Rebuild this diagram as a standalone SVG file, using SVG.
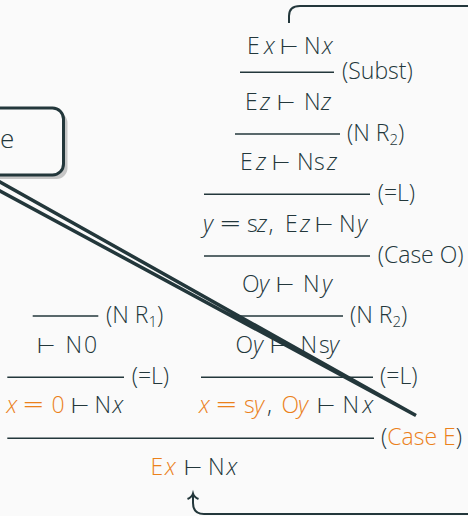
<svg xmlns="http://www.w3.org/2000/svg" width="468" height="516" viewBox="0 0 468 516">
<style>
text{font-family:"Open Sans","DejaVu Sans",sans-serif;font-size:23px;font-weight:300;fill:#23373b}
.i{font-style:italic}
.o{fill:#eb811b}
.s{font-size:15px}
.t{font-family:"DejaVu Sans",sans-serif;font-weight:200;font-size:21px}
.e{font-family:"DejaVu Sans",sans-serif;font-weight:200;font-size:27px}
.rule{stroke:#23373b;stroke-width:1.6;fill:none}
.conn{stroke:#23373b;stroke-width:2;fill:none}
</style>
<rect width="468" height="516" fill="#fafafa"/>
<g id="proof">
<text y="54"><tspan x="247">E</tspan><tspan x="264" class="i">x</tspan><tspan x="280" class="t">⊢</tspan><tspan x="304">N</tspan><tspan x="322" class="i">x</tspan></text>
<line class="rule" x1="240" y1="72.3" x2="334" y2="72.3"/>
<text x="342" y="79">(Subst)</text>
<text y="110"><tspan x="245">E</tspan><tspan x="260" class="i">z</tspan><tspan x="277" class="t">⊢</tspan><tspan x="304">N</tspan><tspan x="321" class="i">z</tspan></text>
<line class="rule" x1="235" y1="134" x2="340" y2="134"/>
<text x="347" y="140.7">(N R<tspan class="s" dy="4">2</tspan><tspan dy="-4">)</tspan></text>
<text y="170"><tspan x="240">E</tspan><tspan x="256" class="i">z</tspan><tspan x="272" class="t">⊢</tspan><tspan x="297">N</tspan><tspan x="314">s</tspan><tspan x="327" class="i">z</tspan></text>
<line class="rule" x1="204" y1="194.3" x2="370" y2="194.3"/>
<text x="377.7" y="201">(=L)</text>
<text y="231.7"><tspan x="203" class="i">y</tspan><tspan x="219" class="e">=</tspan><tspan x="247">s</tspan><tspan x="257" class="i">z</tspan><tspan x="268.5">,</tspan><tspan x="285">E</tspan><tspan x="300" class="i">z</tspan><tspan x="315" class="t">⊢</tspan><tspan x="339">N</tspan><tspan x="357" class="i">y</tspan></text>
<line class="rule" x1="204" y1="256" x2="370" y2="256"/>
<text x="377.7" y="262.7">(Case O)</text>
<text y="291.7"><tspan x="242">O</tspan><tspan x="259" class="i">y</tspan><tspan x="276" class="t">⊢</tspan><tspan x="303">N</tspan><tspan x="322" class="i">y</tspan></text>
<line class="rule" x1="233" y1="316" x2="343" y2="316"/>
<text x="350" y="322.7">(N R<tspan class="s" dy="4">2</tspan><tspan dy="-4">)</tspan></text>
<line class="rule" x1="32.7" y1="316" x2="98.3" y2="316"/>
<text x="106" y="322.7">(N R<tspan class="s" dy="4">1</tspan><tspan dy="-4">)</tspan></text>
<text y="352.7"><tspan x="37" class="t">⊢</tspan><tspan x="65.5">N</tspan><tspan x="84">0</tspan></text>
<text y="352.7"><tspan x="235.5">O</tspan><tspan x="253" class="i">y</tspan><tspan x="270" class="t">⊢</tspan><tspan x="300.5">N</tspan><tspan x="319">s</tspan><tspan x="329" class="i">y</tspan></text>
<line class="rule" x1="7.3" y1="377.3" x2="124" y2="377.3"/>
<text x="131.7" y="384">(=L)</text>
<line class="rule" x1="201" y1="377.3" x2="373" y2="377.3"/>
<text x="380" y="384">(=L)</text>
<text y="413.3"><tspan x="6.5" class="i o">x</tspan><tspan x="22" class="e o">=</tspan><tspan x="51.5" class="o">0</tspan><tspan x="71" class="t">⊢</tspan><tspan x="94.5">N</tspan><tspan x="112.5" class="i">x</tspan></text>
<text y="413.3"><tspan x="199" class="i o">x</tspan><tspan x="215" class="e o">=</tspan><tspan x="244" class="o">s</tspan><tspan x="254" class="i o">y</tspan><tspan x="267">,</tspan><tspan x="281.5" class="o">O</tspan><tspan x="298" class="i o">y</tspan><tspan x="317" class="t">⊢</tspan><tspan x="342.5">N</tspan><tspan x="362.5" class="i">x</tspan></text>
<line class="rule" x1="7.3" y1="438.3" x2="374" y2="438.3"/>
<text x="381" y="445">(<tspan class="o">Case E</tspan>)</text>
<text y="475"><tspan x="150.5" class="o">E</tspan><tspan x="165" class="i o">x</tspan><tspan x="184" class="t">⊢</tspan><tspan x="208">N</tspan><tspan x="226.5" class="i">x</tspan></text>
</g>
<g id="connectors">
<path class="conn" d="M289,23 V16 Q289,6 300,6 H470"/>
<path class="conn" d="M470,514 H204 Q193,514 193,503 V494"/>
<path class="conn" d="M187.5,499 Q192,497 193,493.5 Q194,497 198.5,499"/>
<polygon points="-60,148.3 416,415.5 -60,158.6" fill="#fafafa" stroke="#23373b" stroke-width="3.5" stroke-linejoin="miter" stroke-miterlimit="4"/>
</g>
<g id="box">
<rect x="-30" y="112" width="97.5" height="67" rx="11" fill="#c6c6c6"/>
<rect x="-30" y="108" width="93.5" height="67" rx="11" fill="#fafafa" stroke="#23373b" stroke-width="3"/>
<text x="0" y="148" style="font-size:26px">e</text>
</g>
</svg>
